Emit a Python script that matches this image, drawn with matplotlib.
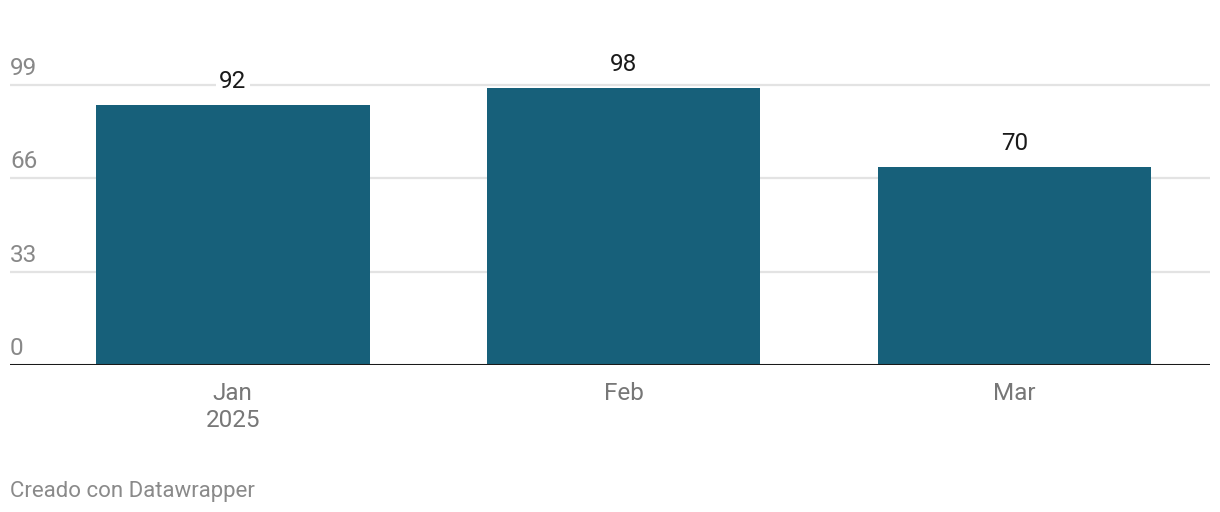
import matplotlib
matplotlib.use("Agg")
import matplotlib.pyplot as plt

categories = ["Jan\n2025", "Feb", "Mar"]
values = [92, 98, 70]
yticks = [0, 33, 66, 99]

W, H = 1220, 512
fig = plt.figure(figsize=(W / 100, H / 100), dpi=100)
plt.rcParams['font.family'] = ['Roboto', 'DejaVu Sans']

y0_px = 365
px_per_unit = 280 / 99
ymax = 110
ax_h = ymax * px_per_unit
ax = fig.add_axes([10 / W, (H - y0_px) / H, 1200 / W, ax_h / H])
ax.set_xlim(-0.57, 2.5)
ax.set_ylim(0, ymax)

x = list(range(len(categories)))
ax.bar(x, values, width=0.70, color="#17607a", zorder=2)

for v in yticks[1:]:
    ax.axhline(v, color="#e3e3e3", lw=1.6, zorder=1)
ax.axhline(0, color="#1a1a1a", lw=2.2, zorder=3)

for s in ax.spines.values():
    s.set_visible(False)
ax.set_xticks([])
ax.set_yticks([])

# y tick labels (left aligned, above gridlines)
for v in yticks:
    ax.annotate(str(v), xy=(0, v), xycoords=("axes fraction", "data"),
                xytext=(0, 10), textcoords="offset pixels",
                ha="left", va="baseline", fontsize=17.5, color="#888888")

# value labels
for xi, v in zip(x, values):
    ax.annotate(str(v), xy=(xi, v), xytext=(0, 17), textcoords="offset pixels",
                ha="center", va="baseline", fontsize=17.5, color="#1a1a1a", zorder=4,
                bbox=dict(boxstyle="square,pad=0.15", fc="white", ec="none"))

# category labels
for xi, c in zip(x, categories):
    ax.annotate(c, xy=(xi, 0), xytext=(0, -17), textcoords="offset pixels",
                ha="center", va="top", fontsize=17.5, color="#777777",
                linespacing=1.22)

fig.text(10 / W, 1 - 497 / H, "Creado con Datawrapper", ha="left", va="baseline",
         fontsize=16, color="#8a8a8a")

fig.savefig("out.png", dpi=100, facecolor="white")
